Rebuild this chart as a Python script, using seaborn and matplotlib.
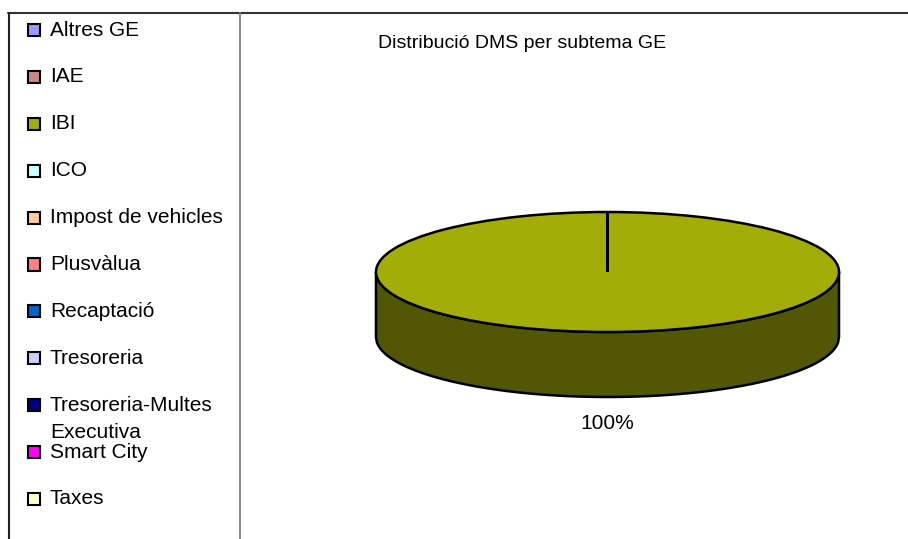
import textwrap
import numpy as np
import matplotlib
matplotlib.use("Agg")
import matplotlib.pyplot as plt
import matplotlib.colors as mcolors
from matplotlib.patches import Rectangle
from matplotlib.lines import Line2D
import seaborn as sns

# ---- data -------------------------------------------------------------
categories = ["Altres GE", "IAE", "IBI", "ICO", "Impost de vehicles", "Plusvàlua",
              "Recaptació", "Tresoreria", "Tresoreria-Multes Executiva",
              "Smart City", "Taxes"]
dms_values = [0, 0, 100, 0, 0, 0, 0, 0, 0, 0, 0]
slice_colors = ["#9999FF", "#CC8888", "#A2AE07", "#CCFFFF", "#FFCC99", "#FF8080",
                "#0066CC", "#CCCCFF", "#000080", "#FF00FF", "#FFFFCC"]
chart_title = "Distribució DMS per subtema GE"

# ---- style ------------------------------------------------------------
sns.set_theme(style="white")
plt.rcParams["font.family"] = ["Liberation Sans", "DejaVu Sans"]

W, H = 908, 539
fig = plt.figure(figsize=(W / 100, H / 100), dpi=100)
fig.patch.set_facecolor("white")


def fx(px):
    return px / W


def fy(py):
    return 1 - py / H


palette = sns.color_palette(slice_colors)
side_palette = [tuple(np.array(mcolors.to_rgb(c)) * 0.5) for c in palette]

# ---- pie axes: unit circle drawn as a flat ellipse ---------------------
rx, ry = 231.5, 60.0          # pixels per data unit (horizontal / vertical)
cx, cy = 607.5, 272.0         # pie centre in pixels from the top-left
depth = 65.0 / ry             # thickness of the pie side in data units
xlim = (-1.25, 1.25)
ylim = (-2.7, 1.4)
ax_w = (xlim[1] - xlim[0]) * rx
ax_h = (ylim[1] - ylim[0]) * ry
left = cx + xlim[0] * rx
top = cy - ylim[1] * ry
ax = fig.add_axes([fx(left), fy(top + ax_h), ax_w / W, ax_h / H])

pie_kw = dict(startangle=90, counterclock=False, radius=1.0)

# side of the pie: stacked copies in a darker shade
for off in np.linspace(depth, 0, 70):
    ax.pie(dms_values, colors=side_palette, center=(0, -off),
           wedgeprops=dict(linewidth=0, zorder=1), **pie_kw)

# silhouette of the front side
xs = np.linspace(-1, 1, 600)
front = -np.sqrt(np.clip(1 - xs ** 2, 0, None))
ax.fill_between(xs, front - depth, front, facecolor="none",
                edgecolor="black", linewidth=1.8, zorder=2)

# top face
ax.pie(dms_values, colors=palette, center=(0, 0),
       wedgeprops=dict(edgecolor="black", linewidth=1.8, zorder=3), **pie_kw)

# percentage labels
total = float(sum(dms_values))
cum = 0.0
for v in dms_values:
    if v > 0:
        mid = np.deg2rad(90 - 360 * (cum + v / 2) / total)
        lx, ly = 1.25 * np.cos(mid), 1.44 * np.sin(mid)
        if ly < 0:
            ly -= depth
        ax.text(lx, ly, f"{v / total:.0%}", ha="center", va="center",
                fontsize=15, color="black", zorder=5)
    cum += v

ax.set_aspect("auto")
ax.set_xlim(*xlim)
ax.set_ylim(*ylim)
ax.set_axis_off()

# ---- title ------------------------------------------------------------
fig.text(fx(522), fy(43), chart_title, ha="center", va="center",
         fontsize=14, color="black")

# ---- legend -----------------------------------------------------------
first_y, pitch, line_step = 30.0, 46.9, 27.0
for i, (name, col) in enumerate(zip(categories, palette)):
    yc = first_y + i * pitch
    fig.add_artist(Rectangle((fx(28), fy(yc + 6)), 12 / W, 12 / H,
                             transform=fig.transFigure, facecolor=col,
                             edgecolor="black", linewidth=1.5))
    for k, line in enumerate(textwrap.wrap(name, 18)):
        fig.text(fx(50), fy(yc + 5.5 + k * line_step), line, ha="left",
                 va="baseline", fontsize=15, color="black")

# ---- frame lines ------------------------------------------------------
fig.add_artist(Line2D([fx(8), 1.0], [fy(13), fy(13)], transform=fig.transFigure,
                      color="#333333", linewidth=1.5))
fig.add_artist(Line2D([fx(9), fx(9)], [fy(13), 0.0], transform=fig.transFigure,
                      color="#222222", linewidth=1.5))
fig.add_artist(Line2D([fx(240.5), fx(240.5)], [fy(13), 0.0],
                      transform=fig.transFigure, color="#808080", linewidth=1.3))

fig.savefig("out.png", dpi=100, facecolor="white")
